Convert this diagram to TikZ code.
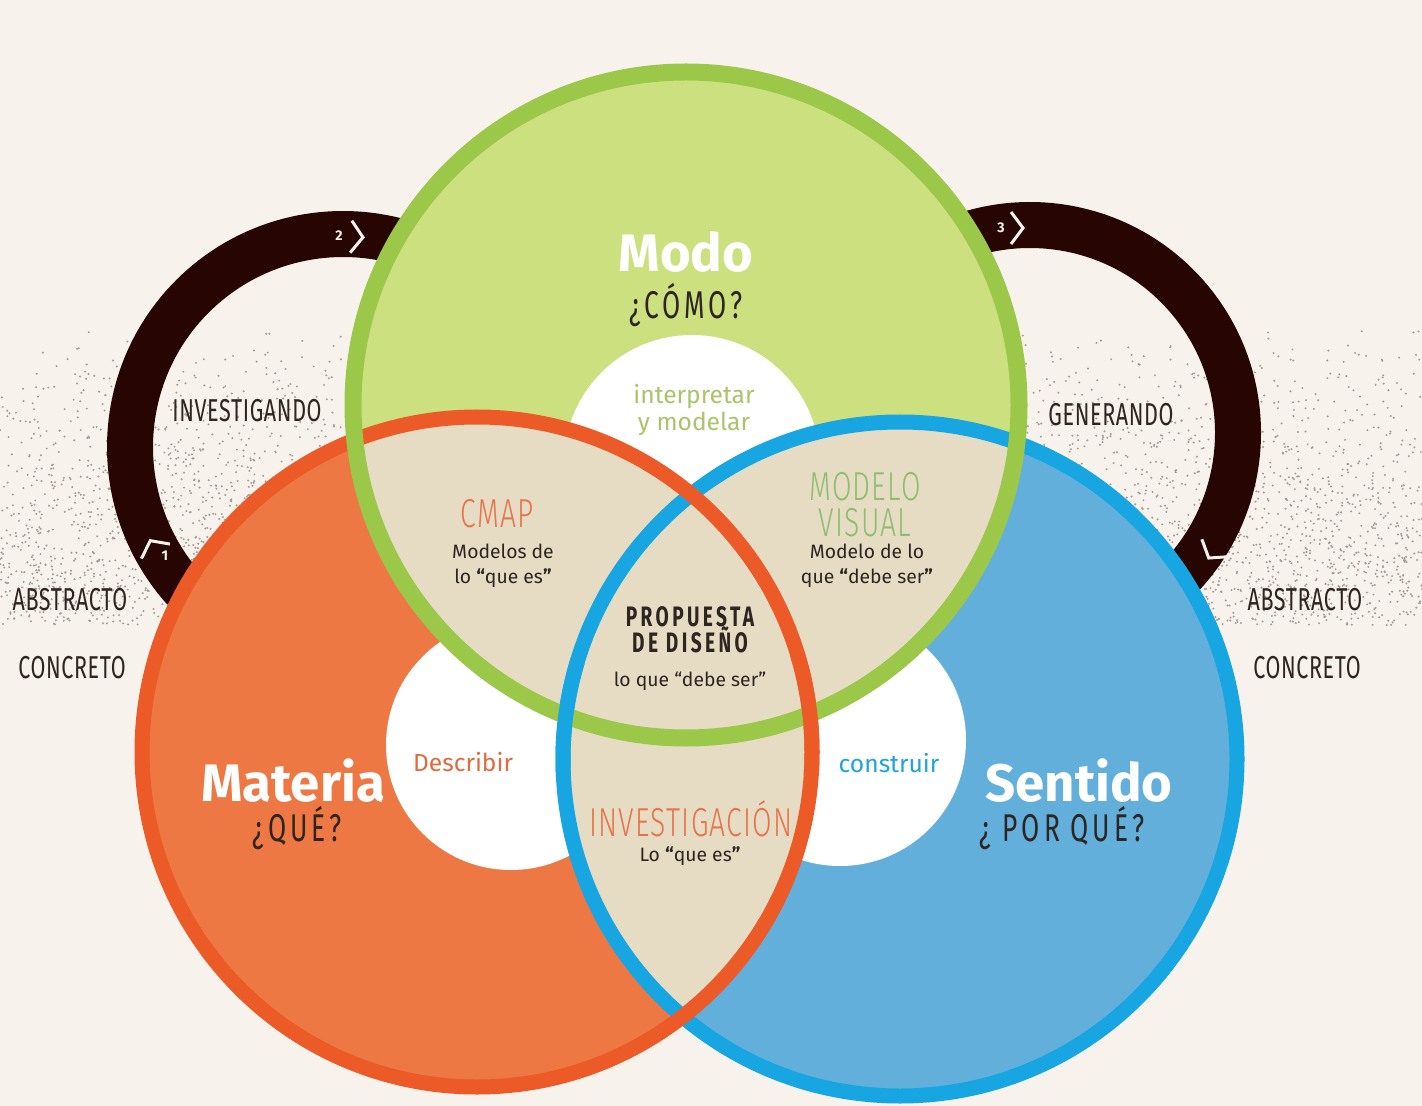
\documentclass[tikz,border=0pt]{standalone}
\usepackage{fontspec}
\setmainfont{Fira Sans}
\newfontfamily\condfont[FakeStretch=0.7]{Fira Sans Light}
\newfontfamily\condmid[FakeStretch=0.68]{Fira Sans}
\usetikzlibrary{positioning}
\definecolor{bgcream}{HTML}{F8F2EC}
\definecolor{stipple}{HTML}{A39A92}
\definecolor{looparc}{HTML}{260503}
\definecolor{fillgreen}{HTML}{CDE07F}
\definecolor{ringgreen}{HTML}{9CC84A}
\definecolor{fillred}{HTML}{EE7843}
\definecolor{ringred}{HTML}{EB5A27}
\definecolor{fillblue}{HTML}{63AFDC}
\definecolor{ringblue}{HTML}{17A6E1}
\definecolor{beige}{HTML}{E6DCC4}
\definecolor{darktext}{HTML}{2E2420}
\definecolor{cmaporange}{HTML}{E8734A}
\definecolor{modelgreen}{HTML}{8DBE6E}
\definecolor{interpgreen}{HTML}{A9C46A}
\definecolor{describred}{HTML}{E36A3D}
\definecolor{constblue}{HTML}{1BA4DD}
\tikzset{chevmark/.pic={\draw[draw=bgcream, line width=0.6mm, line join=miter] (-6,16) -- (6,0) -- (-6,-16);}}

\begin{document}
\begin{tikzpicture}[x=0.2mm,y=0.2mm,
ringG/.style={draw=ringgreen, line width=3.4mm},
ringR/.style={draw=ringred, line width=3.0mm},
ringB/.style={draw=ringblue, line width=3.0mm},
cyclearc/.style={draw=looparc, line width=9.2mm},
title/.style={font=\bfseries\fontsize{30}{30}\selectfont, text=white, inner sep=0pt},
question/.style={font=\condmid\addfontfeature{LetterSpace=10}\fontsize{22}{22}\selectfont, text=darktext, inner sep=0pt},
tag/.style={font=\condmid\addfontfeature{LetterSpace=2}\fontsize{18}{18}\selectfont, text=darktext, inner sep=0pt},
zone/.style={font=\condfont\addfontfeature{LetterSpace=3}\fontsize{23}{20}\selectfont, align=center, inner sep=0pt},
body/.style={font=\fontsize{11}{14}\selectfont, text=darktext, align=center, inner sep=0pt},
verb/.style={font=\fontsize{14}{15.5}\selectfont, align=center, inner sep=0pt},
stepnum/.style={font=\bfseries\fontsize{8}{8}\selectfont, text=bgcream, inner sep=0pt}]
\fill[bgcream] (0,0) rectangle (1422,-1106);
\useasboundingbox (0,0) rectangle (1422,-1106);
% stippled band
\pgfmathsetseed{7}
\foreach \k in {1,...,6000}
  \fill[stipple] ({rnd*1422},{-320-305*sqrt(rnd)}) circle (1.1);
\coordinate (cG) at (686,-405);
\coordinate (cR) at (477,-752);
\coordinate (cB) at (900,-759);
\coordinate (cL) at (343,-447);
\coordinate (cQ) at (1030,-433);
% loops
\draw[cyclearc] (cL) ++(222:213) arc (222:50:213);
\draw[cyclearc] (cQ) ++(130:208) arc (130:-50:208);
\pic[rotate=-3] at (357,-237) {chevmark};
\node[stepnum] (s2) at (339,-236) {2};
\pic[rotate=0] at (1017,-228) {chevmark};
\node[stepnum] (s3) at (1001,-228) {3};
\pic[rotate=117] at (153,-546) {chevmark};
\node[stepnum] (s1) at (165,-556) {1};
\pic[rotate=-123] at (1212,-553) {chevmark};
% circles
\fill[fillgreen] (cG) circle (333);
\fill[fillred] (cR) circle (335);
\fill[fillblue] (cB) circle (337);
\fill[white] (692,-463) circle (128);
\fill[white] (511,-745) circle (125);
\fill[white] (840,-740) circle (126);
\begin{scope}
\clip (cG) circle (333);
\fill[beige] (cR) circle (335);
\fill[beige] (cB) circle (337);
\end{scope}
\begin{scope}
\clip (cR) circle (335);
\fill[beige] (cB) circle (337);
\end{scope}
\draw[ringB] (cB) circle (337);
\draw[ringR] (cR) circle (335);
\draw[ringG] (cG) circle (333);
\draw[ringR] (cR) ++(-4:335) arc (-4:17:335);
\draw[ringB] (cB) ++(163:337) arc (163:183:337);
% labels
\node[title] (modo) at (686,-252) {Modo};
\node[question] (como) at (686,-305) {¿CÓMO?};
\node[title] (materia) at (293,-781) {Materia};
\node[question] (que) at (297,-828) {¿QUÉ?};
\node[title] (sentido) at (1079,-781) {Sentido};
\node[question] (porque) at (1062,-828) {¿ POR QUÉ?};
\node[verb, text=interpgreen] (interp) at (694,-410) {interpretar\\y modelar};
\node[verb, text=describred] (describir) at (463,-762) {Describir};
\node[verb, text=constblue] (construir) at (889,-763) {construir};
\node[zone, text=cmaporange] (cmap) at (497,-514) {CMAP};
\node[body] (cmapdef) at (503,-566) {Modelos de\\lo \textbf{“}que es\textbf{”}};
\node[zone, text=modelgreen] (modelo) at (865,-487) {MODELO};
\node[zone, text=modelgreen, below=1.3mm of modelo] (visual) {VISUAL};
\node[body] (visualdef) at (867,-566) {Modelo de lo\\que \textbf{“}debe ser\textbf{”}};
\node[font=\condmid\bfseries\addfontfeature{LetterSpace=12}\fontsize{16}{15}\selectfont, text=darktext, align=center, inner sep=0pt] (propuesta) at (690,-630) {PROPUESTA\\DE DISEÑO};
\node[body] (propdef) at (690,-681) {lo que “debe ser”};
\node[zone, text=cmaporange] (invest) at (691,-819) {INVESTIGACIÓN};
\node[body] (investdef) at (690,-856) {Lo \textbf{“}que es\textbf{”}};
\node[tag] (investigando) at (247,-411) {INVESTIGANDO};
\node[tag] (generando) at (1111,-415) {GENERANDO};
\node[tag] (abstL) at (70,-600) {ABSTRACTO};
\node[tag] (concL) at (72,-668) {CONCRETO};
\node[tag] (abstR) at (1305,-600) {ABSTRACTO};
\node[tag] (concR) at (1307,-668) {CONCRETO};
\end{tikzpicture}
\end{document}
